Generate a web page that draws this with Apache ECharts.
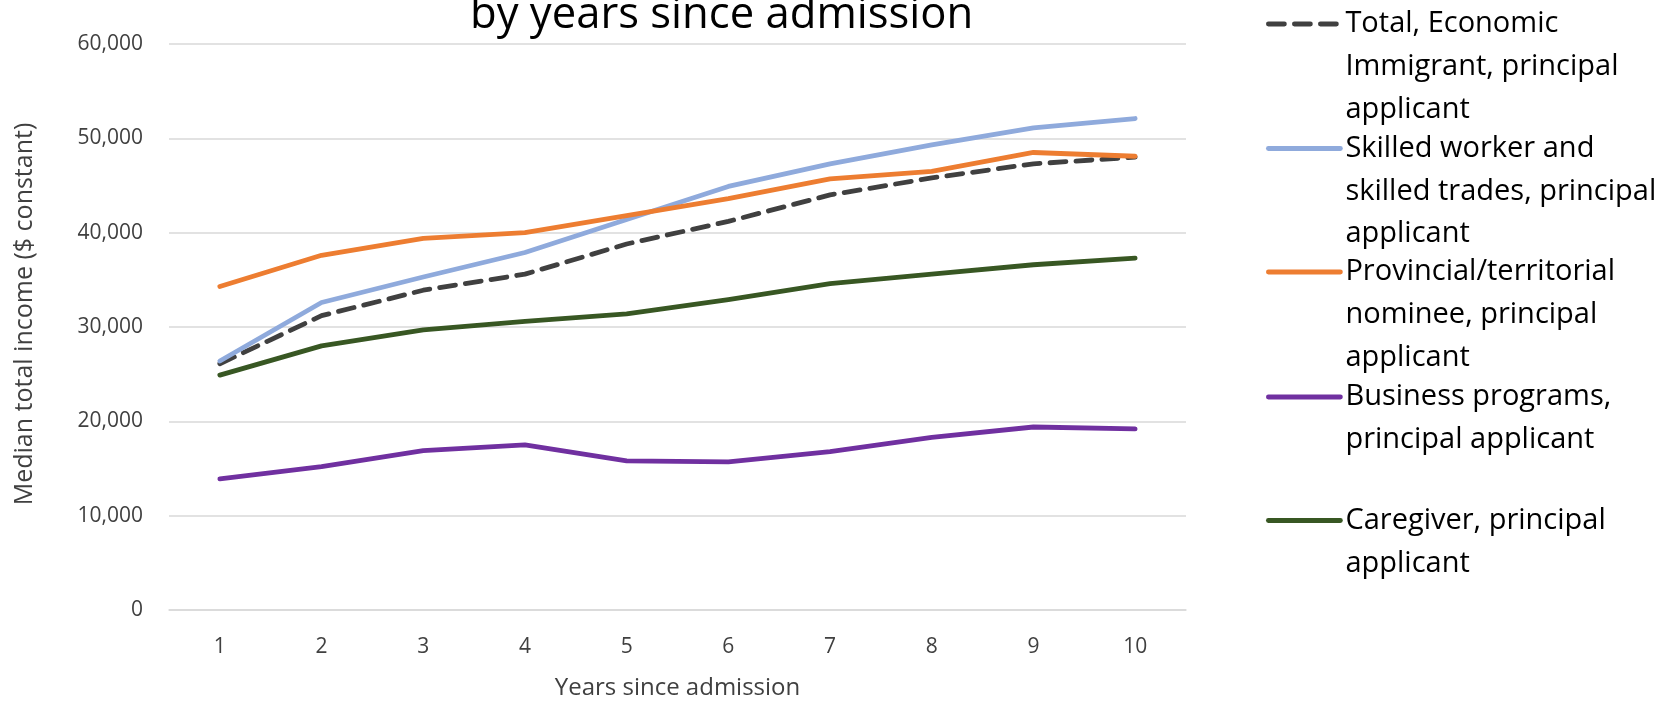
<!DOCTYPE html>
<html>
<head>
<meta charset="utf-8">
<script src="https://cdn.jsdelivr.net/npm/echarts@6/dist/echarts.min.js"></script>
<style>
html,body{margin:0;padding:0;background:#fff;}
#chart{width:1667px;height:705px;}
</style>
</head>
<body>
<div id="chart"></div>
<script>
const years = ['1','2','3','4','5','6','7','8','9','10'];
const totalEconomic = [26100, 31200, 33900, 35600, 38800, 41200, 44000, 45800, 47300, 48000];
const skilledWorker = [26400, 32600, 35300, 37900, 41400, 44900, 47300, 49300, 51100, 52100];
const provincialNominee = [34300, 37600, 39400, 40000, 41800, 43600, 45700, 46500, 48500, 48100];
const businessPrograms = [13900, 15200, 16900, 17500, 15800, 15700, 16800, 18300, 19400, 19200];
const caregiver = [24900, 28000, 29700, 30600, 31400, 32900, 34600, 35600, 36600, 37300];

const seriesNames = [
  'Total, Economic Immigrant, principal applicant',
  'Skilled worker and skilled trades, principal applicant',
  'Provincial/territorial nominee, principal applicant',
  'Business programs, principal applicant',
  'Caregiver, principal applicant'
];
const legendLabels = [
  'Total, Economic\nImmigrant, principal\napplicant',
  'Skilled worker and\nskilled trades, principal\napplicant',
  'Provincial/territorial\nnominee, principal\napplicant',
  'Business programs,\nprincipal applicant',
  'Caregiver, principal\napplicant'
];
const seriesData = [totalEconomic, skilledWorker, provincialNominee, businessPrograms, caregiver];
const colors = ['#404040', '#8faadc', '#ed7d31', '#7030a0', '#385723'];
const DASH = [16, 10];

const FONT = 'Open Sans';
const LH = 42.8;
const legendCenters = [24, 148.5, 272, 397, 520.5];

const legends = legendLabels.map((lab, i) => {
  const n = lab.split('\n').length;
  // prepend empty lines so that the first real line sits on the icon
  const shown = '\n'.repeat(n - 1) + lab;
  return {
    show: true,
    orient: 'vertical',
    left: 1266,
    top: legendCenters[i] - (2 * n - 1) * LH / 2,
    padding: 0,
    itemGap: 0,
    itemWidth: 72,
    itemHeight: 12,
    data: [seriesNames[i]],
    formatter: () => shown,
    selectedMode: false,
    itemStyle: {opacity: 0, borderWidth: 0},
    lineStyle: {
      color: colors[i],
      width: 4.8,
      cap: 'round',
      type: i === 0 ? DASH : 'solid'
    },
    textStyle: {
      fontFamily: FONT,
      fontSize: 29,
      color: '#000000',
      lineHeight: LH
    }
  };
});

const chart = echarts.init(document.getElementById('chart'), null, {renderer: 'canvas'});
chart.setOption({
  backgroundColor: '#ffffff',
  animation: false,
  title: {
    text: 'by years since admission',
    left: 470,
    top: -6.5,
    padding: 0,
    textStyle: {fontFamily: FONT, fontSize: 43.6, fontWeight: 'normal', color: '#000000'}
  },
  legend: legends,
  grid: {left: 169, right: 1667 - 1186, top: 44, bottom: 705 - 618, containLabel: false},
  xAxis: {
    type: 'category',
    data: years,
    boundaryGap: true,
    name: 'Years since admission',
    nameLocation: 'middle',
    nameGap: 66,
    nameTextStyle: {fontFamily: FONT, fontSize: 24, color: '#404040'},
    axisLine: {show: true, lineStyle: {color: '#d9d9d9', width: 1.5}},
    axisTick: {show: false},
    axisLabel: {fontFamily: FONT, fontSize: 21, color: '#404040', margin: 27}
  },
  yAxis: {
    type: 'value',
    min: 0,
    max: 60000,
    interval: 10000,
    name: 'Median total income ($ constant)',
    nameLocation: 'middle',
    nameGap: 132,
    nameTextStyle: {fontFamily: FONT, fontSize: 25, color: '#404040', padding: [0, 0, 0, 26]},
    axisLine: {show: false},
    axisTick: {show: false},
    splitLine: {lineStyle: {color: '#d9d9d9', width: 1.5}},
    axisLabel: {
      fontFamily: FONT, fontSize: 21, color: '#404040', margin: 26,
      formatter: v => v.toLocaleString('en-US')
    }
  },
  series: seriesData.map((d, i) => ({
    name: seriesNames[i],
    type: 'line',
    data: d,
    symbol: 'none',
    showSymbol: false,
    color: colors[i],
    lineStyle: {
      color: colors[i],
      width: 4.8,
      cap: 'round',
      join: 'round',
      type: i === 0 ? DASH : 'solid'
    },
    itemStyle: {color: colors[i]},
    z: 2 + i
  }))
});
</script>
</body>
</html>
